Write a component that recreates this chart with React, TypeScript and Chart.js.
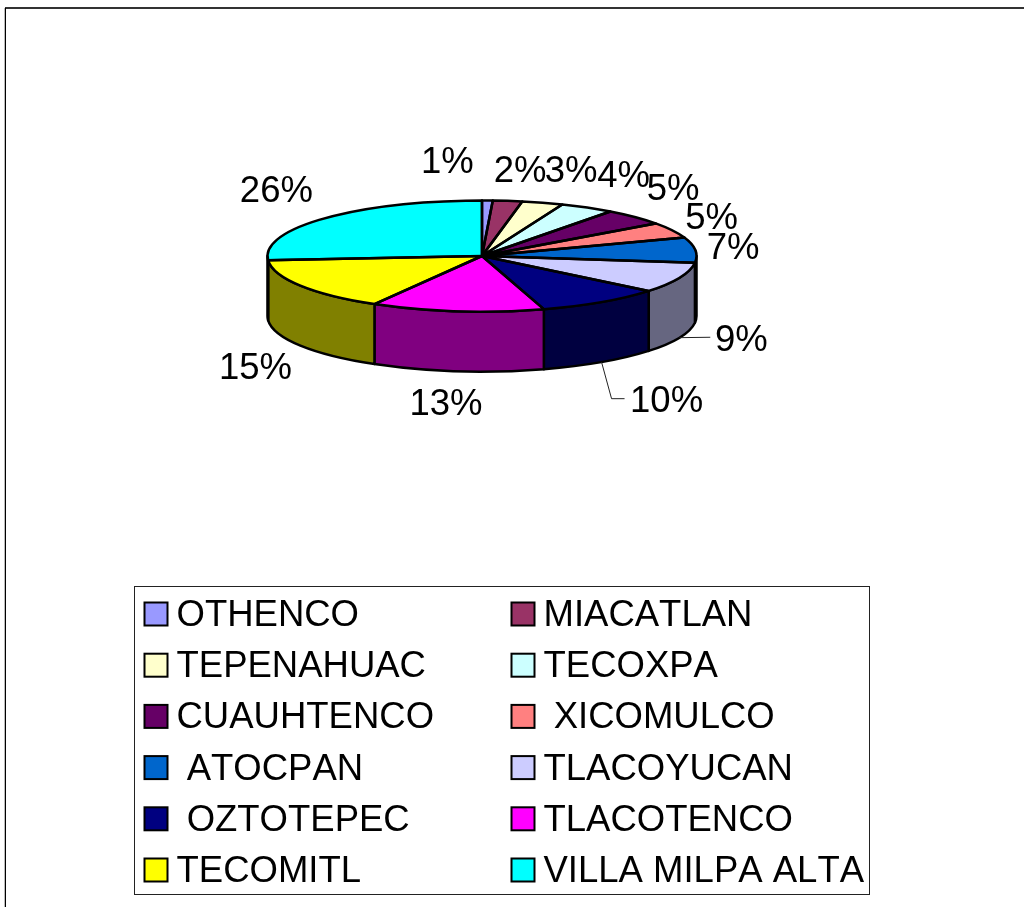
import React, { useEffect, useRef } from "react";
import { Chart, registerables } from "chart.js";

Chart.register(...registerables);

const categories = [
  "OTHENCO", "MIACATLAN", "TEPENAHUAC", "TECOXPA", "CUAUHTENCO", " XICOMULCO",
  " ATOCPAN", "TLACOYUCAN", " OZTOTEPEC", "TLACOTENCO", "TECOMITL", "VILLA MILPA ALTA",
];
const values = [0.8, 2.2, 3.1, 4.1, 4.8, 4.6, 7.3, 8.9, 9.5, 13.0, 15.4, 26.2];
const sliceColors = [
  "#9999FF", "#993366", "#FFFFCC", "#CCFFFF", "#660066", "#FF8080",
  "#0066CC", "#CCCCFF", "#000080", "#FF00FF", "#FFFF00", "#00FFFF",
];
const wallColors = [
  "#4D4D80", "#4D1A33", "#808066", "#668080", "#330033", "#804040",
  "#003366", "#666680", "#000040", "#800080", "#808000", "#008080",
];
const labelNudges = [
  [-40, -40.5], [12.5, -31.4], [28.5, -33.3], [36.5, -34.1], [38.3, -30.4], [39.7, -14.7],
  [37.9, -3.5], [61.8, 60.6], [65, 96.6], [-11.1, 90.4], [-44.9, 80], [-48.2, -29],
];

const FONT = '36.5px "Liberation Sans", Arial, sans-serif';
const TILT = 55.5 / 214.5;
const DEPTH = 60;
const EDGE = 2.5;

const frameAndWalls = {
  id: "frameAndWalls",
  beforeDatasetsDraw(chart: any) {
    const { ctx } = chart;
    ctx.save();
    ctx.fillStyle = "#333333";
    ctx.fillRect(5, 7, 1019, 2);
    ctx.fillStyle = "#000000";
    ctx.fillRect(5, 8, 1, 899);
    ctx.fillStyle = "#BBBBBB";
    ctx.fillRect(4, 8, 1, 899);
    const arcs = chart.getDatasetMeta(0).data;
    arcs.forEach((arc: any, i: number) => {
      const a0 = Math.max(arc.startAngle, 0);
      const a1 = Math.min(arc.endAngle, Math.PI);
      if (a1 <= a0) return;
      const rx = arc.outerRadius;
      const ry = rx * TILT;
      ctx.beginPath();
      ctx.ellipse(arc.x, arc.y, rx, ry, 0, a0, a1, false);
      ctx.ellipse(arc.x, arc.y + DEPTH, rx, ry, 0, a1, a0, true);
      ctx.closePath();
      ctx.fillStyle = wallColors[i];
      ctx.fill();
      ctx.lineWidth = EDGE;
      ctx.lineJoin = "round";
      ctx.strokeStyle = "#000000";
      ctx.stroke();
    });
    ctx.restore();
  },
};

const flattenPie = {
  id: "flattenPie",
  beforeDatasetDraw(chart: any) {
    const { ctx } = chart;
    const arc = chart.getDatasetMeta(0).data[0];
    ctx.save();
    ctx.translate(arc.x, arc.y);
    ctx.scale(1, TILT);
    ctx.translate(-arc.x, -arc.y);
  },
  afterDatasetDraw(chart: any) {
    const { ctx } = chart;
    ctx.restore();
    const arcs = chart.getDatasetMeta(0).data;
    ctx.save();
    ctx.lineWidth = EDGE;
    ctx.lineJoin = "round";
    ctx.strokeStyle = "#000000";
    arcs.forEach((arc: any) => {
      const rx = arc.outerRadius;
      ctx.beginPath();
      ctx.moveTo(arc.x, arc.y);
      ctx.ellipse(arc.x, arc.y, rx, rx * TILT, 0, arc.startAngle, arc.endAngle, false);
      ctx.closePath();
      ctx.stroke();
    });
    ctx.restore();
  },
};

const pieText = {
  id: "pieText",
  afterDatasetsDraw(chart: any) {
    const { ctx } = chart;
    const arcs = chart.getDatasetMeta(0).data;
    ctx.save();
    ctx.font = FONT;
    ctx.fontKerning = "none";
    ctx.textAlign = "center";
    ctx.textBaseline = "alphabetic";
    arcs.forEach((arc: any, i: number) => {
      const mid = (arc.startAngle + arc.endAngle) / 2;
      const rx = arc.outerRadius;
      const ry = rx * TILT;
      const ax = arc.x + rx * Math.cos(mid);
      const ay = arc.y + ry * Math.sin(mid);
      const lx = ax + labelNudges[i][0];
      const ly = ay + labelNudges[i][1];
      if (i === 7 || i === 8) {
        ctx.beginPath();
        ctx.moveTo(ax, ay + DEPTH);
        if (i === 7) {
          ctx.lineTo(lx - 31, ly - 1);
        } else {
          ctx.lineTo(lx - 55, ly);
          ctx.lineTo(lx - 42, ly);
        }
        ctx.lineWidth = 1;
        ctx.strokeStyle = "#222222";
        ctx.stroke();
      }
      ctx.fillStyle = "#000000";
      ctx.fillText(`${Math.round(values[i])}%`, lx, ly + 13);
    });
    ctx.restore();
  },
};

const legendBlock = {
  id: "legendBlock",
  afterDraw(chart: any) {
    const { ctx } = chart;
    const left = 134.5;
    const top = 586.5;
    const width = 735;
    const height = 308;
    const rowStep = 51.2;
    const columns = [144.5, 511.5];
    const swatch = 23;
    ctx.save();
    ctx.strokeStyle = "#222222";
    ctx.lineWidth = 1;
    ctx.strokeRect(left, top, width, height);
    ctx.font = FONT;
    ctx.fontKerning = "none";
    ctx.textAlign = "left";
    ctx.textBaseline = "alphabetic";
    categories.forEach((name, i) => {
      const col = i % 2;
      const row = Math.floor(i / 2);
      const cy = 614 + row * rowStep;
      const x = columns[col];
      ctx.fillStyle = sliceColors[i];
      ctx.fillRect(x, cy - swatch / 2, swatch, swatch);
      ctx.lineWidth = 2;
      ctx.strokeStyle = "#000000";
      ctx.strokeRect(x, cy - swatch / 2, swatch, swatch);
      ctx.fillStyle = "#000000";
      ctx.fillText(name, x + 32, cy + 12);
    });
    ctx.restore();
  },
};

export default function App() {
  const ref = useRef<HTMLCanvasElement | null>(null);
  useEffect(() => {
    const chart = new Chart(ref.current as HTMLCanvasElement, {
      type: "pie",
      data: {
        labels: categories,
        datasets: [
          {
            data: values,
            backgroundColor: sliceColors,
            borderWidth: 0,
            hoverOffset: 0,
          },
        ],
      },
      options: {
        animation: false,
        responsive: false,
        events: [],
        layout: { padding: { left: 267.5, right: 327.5, top: 41.5, bottom: 436.5 } },
        plugins: { legend: { display: false }, tooltip: { enabled: false }, title: { display: false } },
      },
      plugins: [frameAndWalls, flattenPie, pieText, legendBlock],
    } as any);
    return () => chart.destroy();
  }, []);
  return (
    <div style={{ position: "absolute", left: 0, top: 0, width: 1024, height: 907, overflow: "hidden" }}>
      <canvas ref={ref} width={1024} height={907} style={{ display: "block" }} />
    </div>
  );
}
